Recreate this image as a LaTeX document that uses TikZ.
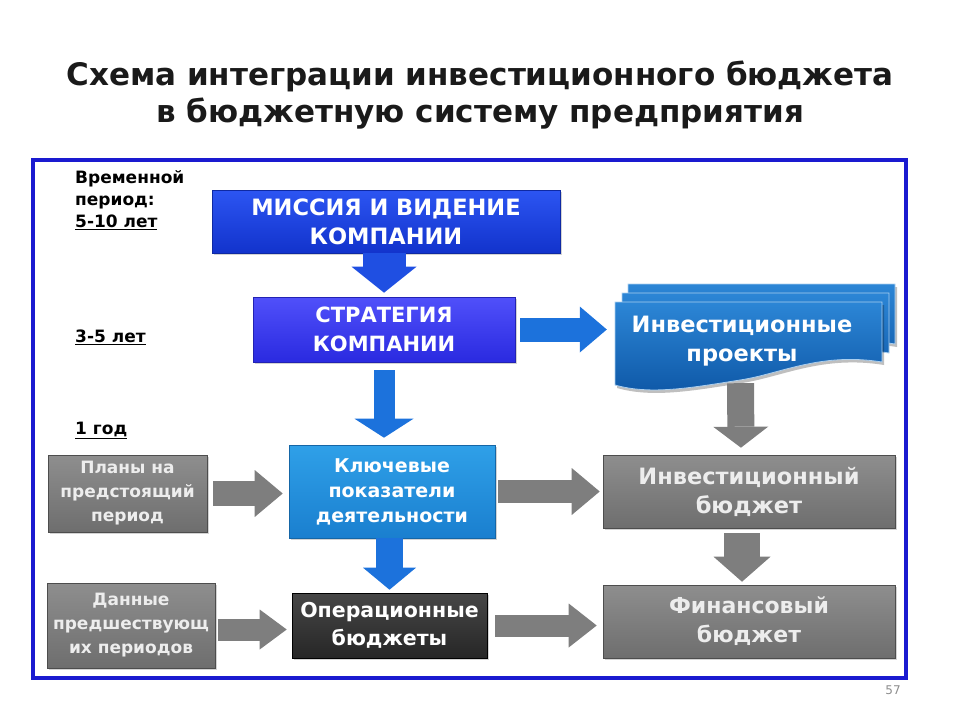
\documentclass[tikz,border=0pt]{standalone}
\usepackage{fontspec}
\setmainfont{DejaVu Sans}
\usetikzlibrary{arrows.meta,shadows,calc}
\definecolor{frameblue}{HTML}{1A1AD0}
\definecolor{misstop}{HTML}{2C55F2}
\definecolor{missbot}{HTML}{1233CC}
\definecolor{strtop}{HTML}{5050FA}
\definecolor{strbot}{HTML}{2A2AE0}
\definecolor{keytop}{HTML}{2FA0E8}
\definecolor{keybot}{HTML}{1A7FCF}
\definecolor{projtop}{HTML}{2C86D6}
\definecolor{projbot}{HTML}{0E57A6}
\definecolor{greytop}{HTML}{8E8E8E}
\definecolor{greybot}{HTML}{6E6E6E}
\definecolor{optop}{HTML}{474747}
\definecolor{opbot}{HTML}{262626}
\definecolor{arrblue}{HTML}{1C72DC}
\definecolor{arrmiss}{HTML}{1F4FE2}
\definecolor{arrgrey}{HTML}{7E7E7E}
\definecolor{titlecol}{HTML}{1A1A1A}
\tikzset{
  box/.style={rectangle, align=center, text=white, inner sep=0pt,
    font=\bfseries\fontsize{22.5}{29}\selectfont,
    drop shadow={opacity=0.35, shadow xshift=2pt, shadow yshift=-2pt}},
  missbox/.style={box, top color=misstop, bottom color=missbot, draw=missbot!80!black, line width=0.6pt},
  strbox/.style={box, top color=strtop, bottom color=strbot, draw=strbot!80!black, line width=0.6pt,
    font=\bfseries\fontsize{21}{29}\selectfont},
  keybox/.style={box, top color=keytop, bottom color=keybot, draw=keybot!80!black, line width=0.6pt,
    font=\bfseries\fontsize{19}{25}\selectfont},
  greybox/.style={box, top color=greytop, bottom color=greybot, draw=greybot!70!black, line width=0.6pt, text=white!93!black},
  smallgrey/.style={greybox, font=\bfseries\fontsize{17}{24}\selectfont},
  opbox/.style={box, top color=optop, bottom color=opbot, draw=black, line width=0.6pt,
    font=\bfseries\fontsize{20.5}{28}\selectfont},
  projlayer/.style={top color=projtop, bottom color=projbot, draw=white!60!projtop, line width=0.8pt},
  blockarr/.style n args={4}{draw=#1, line width=#2, line cap=butt,
    -{Triangle[width=#3, length=#4, line width=0pt]}},
  period/.style={anchor=west, inner sep=0pt, font=\bfseries\fontsize{17}{22}\selectfont, text=black, align=left},
}
\begin{document}
\begin{tikzpicture}[x=1pt,y=-1pt]
\useasboundingbox (0,0) rectangle (960,720);

% title
\node[font=\bfseries\fontsize{31}{37}\selectfont, text=titlecol, align=center] (title) at (480,95)
  {Схема интеграции инвестиционного бюджета\\в бюджетную систему предприятия};

% frame
\draw[frameblue, line width=4pt] (33,160) rectangle (906,678);

% period labels
\node[period] (p1) at (75,200) {Временной\\период:\\\underline{5-10 лет}};
\node[period] (p2) at (75,337) {\underline{3-5 лет}};
\node[period] (p3) at (75,430) {\underline{1 год}};

% boxes
\node[missbox, minimum width=348pt, minimum height=63pt] (miss) at (386,221.5) {МИССИЯ И ВИДЕНИЕ\\КОМПАНИИ};
\node[strbox, minimum width=262pt, minimum height=65pt] (str) at (384,329.5) {СТРАТЕГИЯ\\КОМПАНИИ};
\node[keybox, minimum width=206pt, minimum height=93pt] (key) at (392,491.5) {Ключевые\\показатели\\деятельности};
\node[smallgrey, minimum width=159pt, minimum height=77pt] (plans) at (127.5,493.5) {Планы на\\предстоящий\\период};
\node[smallgrey, minimum width=168pt, minimum height=85pt] (data) at (131,625.5) {Данные\\предшествующ\\их периодов};
\node[opbox, minimum width=195pt, minimum height=65pt] (ops) at (389.5,625.5) {Операционные\\бюджеты};
\node[greybox, minimum width=292pt, minimum height=73pt] (invb) at (749,491.5) {Инвестиционный\\бюджет};
\node[greybox, minimum width=292pt, minimum height=73pt, font=\bfseries\fontsize{22}{29}\selectfont] (fin) at (749,621.5) {Финансовый\\бюджет};

% investment projects (stacked document shape)
\begin{scope}[shift={(13,-18)}]
  \fill[black, opacity=0.25, shift={(2,3)}] (615,302) -- (882,302) -- (882,362) .. controls (820,352) and (780,374) .. (740,380) .. controls (690,388) and (650,395) .. (615,385) -- cycle;
  \path[projlayer] (615,302) -- (882,302) -- (882,362) .. controls (820,352) and (780,374) .. (740,380) .. controls (690,388) and (650,395) .. (615,385) -- cycle;
\end{scope}
\begin{scope}[shift={(7,-9)}]
  \path[projlayer] (615,302) -- (882,302) -- (882,362) .. controls (820,352) and (780,374) .. (740,380) .. controls (690,388) and (650,395) .. (615,385) -- cycle;
\end{scope}
\fill[black, opacity=0.25, shift={(2,3)}] (615,302) -- (882,302) -- (882,362) .. controls (820,352) and (780,374) .. (740,380) .. controls (690,388) and (650,395) .. (615,385) -- cycle;
\path[projlayer] (615,302) -- (882,302) -- (882,362) .. controls (820,352) and (780,374) .. (740,380) .. controls (690,388) and (650,395) .. (615,385) -- cycle;
\node[rectangle, minimum width=267pt, minimum height=76pt, inner sep=0pt] (proj) at (748.5,340) {};
\node[align=center, text=white, inner sep=0pt, font=\bfseries\fontsize{22.5}{29}\selectfont] (projtext) at (742,341) {Инвестиционные\\проекты};

% arrows
\draw[blockarr={arrmiss}{43pt}{65pt}{26pt}, shorten >=4pt] (str.north |- miss.south) -- (str.north);
\draw[blockarr={arrblue}{21pt}{59pt}{19pt}, shorten <=8pt, shorten >=7pt] (str.south) -- (str.south |- key.north);
\draw[blockarr={arrblue}{24pt}{46pt}{27pt}, shorten <=5pt, shorten >=8pt] (str.east) -- (str.east -| proj.west);
\draw[blockarr={arrblue}{27pt}{53pt}{22pt}, shorten >=3pt] (ops.north |- key.south) -- (ops.north);
\draw[blockarr={arrgrey}{27pt}{55pt}{21pt}, shorten <=5pt, shorten >=7pt] ([xshift=-8pt]proj.south) -- ([xshift=-8pt]invb.north);
\draw[blockarr={arrgrey}{36pt}{57pt}{25pt}, shorten <=5pt, shorten >=3pt] ([xshift=-7pt]invb.south) -- ([xshift=-7pt]fin.north);
\draw[blockarr={arrgrey}{25pt}{47pt}{28pt}, shorten <=6pt, shorten >=6pt] (plans.east) -- (plans.east -| key.west);
\draw[blockarr={arrgrey}{23pt}{47pt}{28pt}, shorten <=3pt, shorten >=3pt] (key.east) -- (key.east -| invb.west);
\draw[blockarr={arrgrey}{22pt}{40pt}{27pt}, shorten <=3pt, shorten >=5pt] ([yshift=-4pt]data.east) -- ([yshift=-4pt]data.east -| ops.west);
\draw[blockarr={arrgrey}{22pt}{44pt}{28pt}, shorten <=8pt, shorten >=6pt] (ops.east) -- (ops.east -| fin.west);

% page number
\node[text=black!45, font=\fontsize{12}{14}\selectfont, inner sep=0pt] (pnum) at (893,690) {57};
\end{tikzpicture}
\end{document}
